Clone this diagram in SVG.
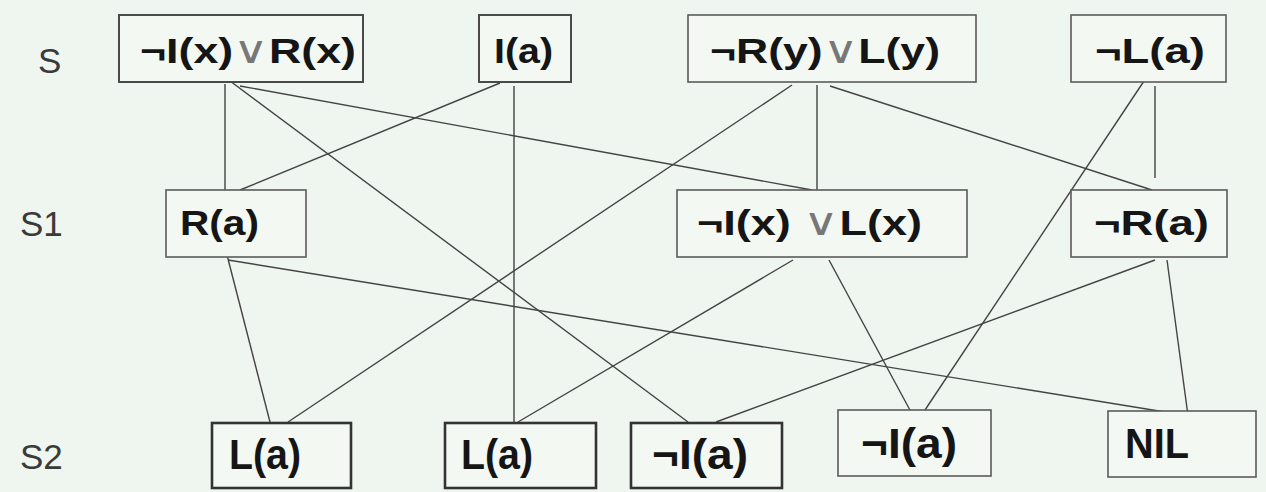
<svg xmlns="http://www.w3.org/2000/svg" width="1266" height="492" viewBox="0 0 1266 492">
<style>
.box{fill:#f3f8f3;stroke:#5a5a5a;stroke-width:1.6}
.mid{stroke-width:2;stroke:#4a4a4a}
.thick{stroke-width:2.6;stroke:#333}
.t{font-family:"Liberation Sans",Arial,sans-serif;font-weight:bold;font-size:35px;fill:#151515}
.t2{font-family:"Liberation Sans",Arial,sans-serif;font-weight:bold;font-size:42px;fill:#151515}
.or{font-family:"DejaVu Sans ExtraLight","DejaVu Sans","Liberation Sans",sans-serif;font-weight:200;font-size:38px;fill:#777}
.lvl{font-family:"Liberation Sans",Arial,sans-serif;font-size:35px;fill:#3a3a3a}
.e{stroke:#444;stroke-width:1.4;fill:none}
</style>
<rect width="1266" height="492" fill="#eff5ef"/>
<g id="levels">
<text class="lvl" x="38" y="73">S</text>
<text class="lvl" x="20" y="236">S1</text>
<text class="lvl" x="20" y="469">S2</text>
</g>
<g id="edges">
<line class="e" x1="225" y1="84" x2="225" y2="190"/>
<line class="e" x1="500" y1="83" x2="240" y2="190"/>
<line class="e" x1="226" y1="78" x2="688" y2="422"/>
<line class="e" x1="240" y1="86" x2="812" y2="190"/>
<line class="e" x1="514" y1="86" x2="514" y2="422"/>
<line class="e" x1="792" y1="85" x2="288" y2="422"/>
<line class="e" x1="817" y1="85" x2="817" y2="198"/>
<line class="e" x1="830" y1="86" x2="1152" y2="190"/>
<line class="e" x1="1146" y1="78" x2="925" y2="410"/>
<line class="e" x1="1155" y1="86" x2="1155" y2="178"/>
<line class="e" x1="227" y1="255" x2="270" y2="422"/>
<line class="e" x1="228" y1="260" x2="1165" y2="412"/>
<line class="e" x1="793" y1="260" x2="518" y2="422"/>
<line class="e" x1="829" y1="260" x2="911" y2="412"/>
<line class="e" x1="1155" y1="260" x2="716" y2="422"/>
<line class="e" x1="1167" y1="260" x2="1189" y2="423"/>
</g>
<g id="n1"><rect class="box mid" x="119" y="15" width="244" height="67"/><text class="t" x="140" y="63" textLength="216" lengthAdjust="spacingAndGlyphs">¬I(x)<tspan class="or">∨</tspan>R(x)</text></g>
<g id="n2"><rect class="box mid" x="479" y="15" width="92" height="67"/><text class="t" x="494" y="63" textLength="59" lengthAdjust="spacingAndGlyphs">I(a)</text></g>
<g id="n3"><rect class="box" x="688" y="15" width="288" height="67"/><text class="t" x="710" y="63" textLength="230" lengthAdjust="spacingAndGlyphs">¬R(y)<tspan class="or">∨</tspan>L(y)</text></g>
<g id="n4"><rect class="box" x="1071" y="15" width="155" height="67"/><text class="t" x="1095" y="63" textLength="110" lengthAdjust="spacingAndGlyphs">¬L(a)</text></g>
<g id="n5"><rect class="box" x="166" y="190" width="140" height="67"/><text class="t" x="180" y="235" textLength="79" lengthAdjust="spacingAndGlyphs">R(a)</text></g>
<g id="n6"><rect class="box" x="677" y="190" width="290" height="67"/><text class="t" x="697" y="235" textLength="225" lengthAdjust="spacingAndGlyphs">¬I(x) <tspan class="or">∨</tspan>L(x)</text></g>
<g id="n7"><rect class="box" x="1071" y="190" width="156" height="67"/><text class="t" x="1094" y="235" textLength="115" lengthAdjust="spacingAndGlyphs">¬R(a)</text></g>
<g id="n8"><rect class="box thick" x="212" y="423" width="139" height="65"/><text class="t2" x="229" y="469" textLength="72" lengthAdjust="spacingAndGlyphs">L(a)</text></g>
<g id="n9"><rect class="box thick" x="445" y="423" width="151" height="65"/><text class="t2" x="461" y="469" textLength="72" lengthAdjust="spacingAndGlyphs">L(a)</text></g>
<g id="n10"><rect class="box thick" x="631" y="423" width="151" height="65"/><text class="t2" x="652" y="469" textLength="96" lengthAdjust="spacingAndGlyphs">¬I(a)</text></g>
<g id="n11"><rect class="box" x="838" y="410" width="153" height="66"/><text class="t2" x="861" y="458" textLength="96" lengthAdjust="spacingAndGlyphs">¬I(a)</text></g>
<g id="n12"><rect class="box" x="1108" y="411" width="148" height="66"/><text class="t2" x="1125" y="458" textLength="64" lengthAdjust="spacingAndGlyphs">NIL</text></g>
</svg>
